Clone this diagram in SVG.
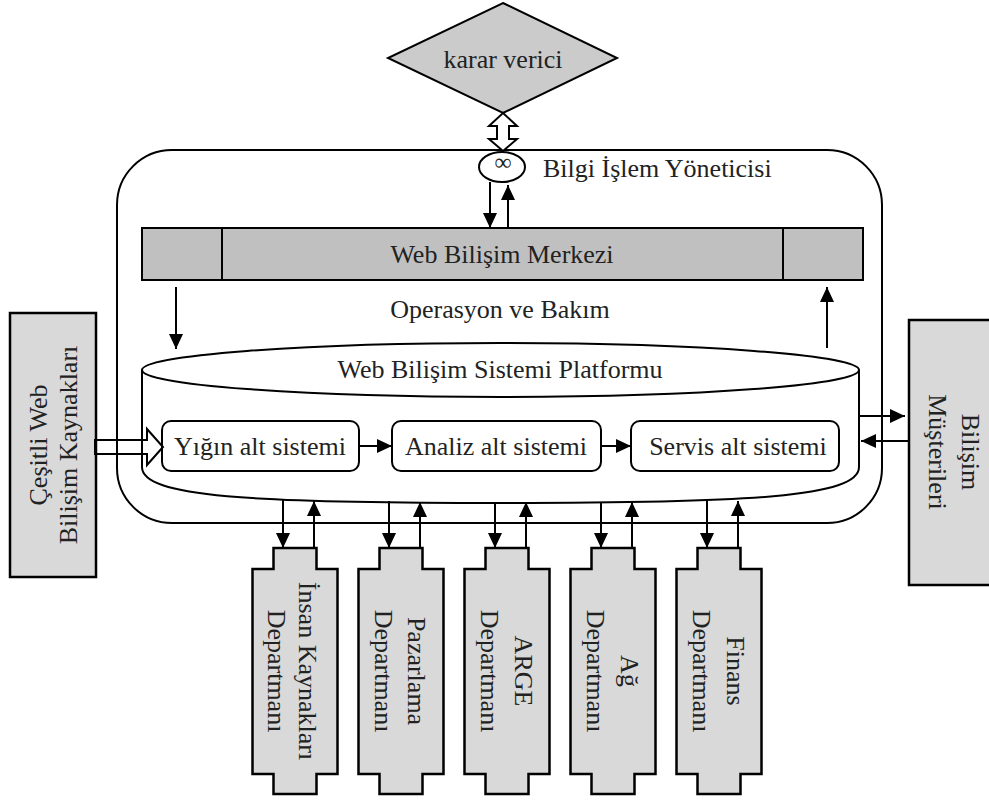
<svg xmlns="http://www.w3.org/2000/svg" width="989" height="802" viewBox="0 0 989 802">
  <style>
    .ln { fill: none; stroke: #000; stroke-width: 2; }
    .box { stroke: #000; stroke-width: 2.5; }
    .lt { fill: #d9d9d9; }
    .dk { fill: #c0c0c0; }
    .wt { fill: #fff; }
    text { font-family: "Liberation Serif", "Times New Roman", serif; font-size: 26px; fill: #222; }
    .mid { text-anchor: middle; }
    .arw { fill: none; stroke: #000; stroke-width: 2; marker-end: url(#head); }
  </style>
  <defs>
    <marker id="head" markerUnits="userSpaceOnUse" markerWidth="16" markerHeight="14" refX="15" refY="7" orient="auto">
      <path d="M0,0 L15,7 L0,14 Z" fill="#000"/>
    </marker>
  </defs>

  <rect width="989" height="802" fill="#fff"/>

  <!-- decision maker -->
  <g id="karar-verici">
    <polygon points="503,3 617,58 503,113 388,58" fill="#cbcbcb" stroke="#000" stroke-width="2"/>
    <text class="mid" x="503" y="68">karar verici</text>
  </g>

  <!-- IT manager frame -->
  <g id="bilgi-islem-yoneticisi">
    <rect x="117" y="150" width="765" height="373" rx="55" ry="55" class="ln"/>
    <text x="543" y="177">Bilgi İşlem Yöneticisi</text>
  </g>

  <!-- web computing centre bar -->
  <g id="web-bilisim-merkezi">
    <rect x="142" y="228" width="721" height="52" class="dk" stroke="#000" stroke-width="2"/>
    <line x1="222" y1="228" x2="222" y2="280" stroke="#000" stroke-width="2"/>
    <line x1="783" y1="228" x2="783" y2="280" stroke="#000" stroke-width="2"/>
    <text class="mid" x="502" y="263">Web Bilişim Merkezi</text>
  </g>

  <g id="operasyon-ve-bakim">
    <text class="mid" x="500" y="318">Operasyon ve Bakım</text>
  </g>

  <!-- platform cylinder -->
  <g id="platform">
    <path d="M142,370 V467 C142,497 250,503 500,503 C750,503 859,497 859,467 V370" class="ln"/>
    <ellipse cx="500.5" cy="370" rx="358.5" ry="27" class="ln"/>
    <text class="mid" x="500" y="378">Web Bilişim Sistemi Platformu</text>
  </g>

  <g id="yigin">
    <rect x="162" y="421" width="197" height="50" rx="9" class="ln wt"/>
    <text class="mid" x="260" y="455">Yığın alt sistemi</text>
  </g>
  <g id="analiz">
    <rect x="392" y="421" width="209" height="50" rx="9" class="ln wt"/>
    <text class="mid" x="496" y="455">Analiz alt sistemi</text>
  </g>
  <g id="servis">
    <rect x="631" y="421" width="208" height="50" rx="9" class="ln wt"/>
    <text class="mid" x="738" y="455">Servis alt sistemi</text>
  </g>

  <!-- external sources -->
  <g id="cesitli-kaynaklar">
    <rect x="10" y="313" width="86" height="264" class="lt" stroke="#000" stroke-width="2.5"/>
    <g transform="translate(53,445) rotate(-90)">
      <text class="mid" x="0" y="-6">Çeşitli Web</text>
      <text class="mid" x="0" y="24">Bilişim Kaynakları</text>
    </g>
  </g>

  <!-- customers -->
  <g id="bilisim-musterileri">
    <rect x="909" y="320" width="84" height="265" class="lt" stroke="#000" stroke-width="2.5"/>
    <g transform="translate(945,452) rotate(90)">
      <text class="mid" x="0" y="-17">Bilişim</text>
      <text class="mid" x="0" y="16">Müşterileri</text>
    </g>
  </g>

  <!-- departments -->
  <g id="dept-insan-kaynaklari">
    <path d="M273.5,548 H316.5 V569 H337.5 V774 H316.5 V794 H273.5 V774 H252.5 V569 H273.5 Z" class="lt" stroke="#000" stroke-width="2.5"/>
    <g transform="translate(295,671) rotate(90)">
      <text class="mid" x="0" y="-4">İnsan Kaynakları</text>
      <text class="mid" x="0" y="27">Departmanı</text>
    </g>
  </g>
  <g id="dept-pazarlama">
    <path d="M379.5,548 H422.5 V569 H443.5 V774 H422.5 V794 H379.5 V774 H358.5 V569 H379.5 Z" class="lt" stroke="#000" stroke-width="2.5"/>
    <g transform="translate(401,671) rotate(90)">
      <text class="mid" x="0" y="-7">Pazarlama</text>
      <text class="mid" x="0" y="26">Departmanı</text>
    </g>
  </g>
  <g id="dept-arge">
    <path d="M485.5,548 H528.5 V569 H549.5 V774 H528.5 V794 H485.5 V774 H464.5 V569 H485.5 Z" class="lt" stroke="#000" stroke-width="2.5"/>
    <g transform="translate(507,671) rotate(90)">
      <text class="mid" x="0" y="-8">ARGE</text>
      <text class="mid" x="0" y="26">Departmanı</text>
    </g>
  </g>
  <g id="dept-ag">
    <path d="M591.5,548 H634.5 V569 H655.5 V774 H634.5 V794 H591.5 V774 H570.5 V569 H591.5 Z" class="lt" stroke="#000" stroke-width="2.5"/>
    <g transform="translate(613,671) rotate(90)">
      <text class="mid" x="0" y="-8">Ağ</text>
      <text class="mid" x="0" y="26">Departmanı</text>
    </g>
  </g>
  <g id="dept-finans">
    <path d="M697.5,548 H740.5 V569 H761.5 V774 H740.5 V794 H697.5 V774 H676.5 V569 H697.5 Z" class="lt" stroke="#000" stroke-width="2.5"/>
    <g transform="translate(719,671) rotate(90)">
      <text class="mid" x="0" y="-8">Finans</text>
      <text class="mid" x="0" y="26">Departmanı</text>
    </g>
  </g>

  <!-- connectors -->
  <g id="connectors">
    <!-- two-way hollow arrow to decision maker -->
    <polygon points="503,113 517,126 509,126 509,139 517,139 503,151 489,139 497,139 497,126 489,126" fill="#fff" stroke="#000" stroke-width="2"/>
    <!-- hub symbol -->
    <ellipse cx="502" cy="167" rx="23" ry="15" fill="#fff" stroke="#000" stroke-width="2"/>
    <text class="mid" x="503" y="170" style="font-size:24px">∞</text>
    <line x1="490" y1="182" x2="490" y2="228" class="arw"/>
    <line x1="508" y1="228" x2="508" y2="185" class="arw"/>

    <!-- operation and maintenance loop -->
    <line x1="176" y1="287" x2="176" y2="349" class="arw"/>
    <line x1="827" y1="348" x2="827" y2="287" class="arw"/>

    <!-- subsystem chain -->
    <line x1="359" y1="446" x2="392" y2="446" class="arw"/>
    <line x1="601" y1="446" x2="631" y2="446" class="arw"/>

    <!-- hollow input arrow -->
    <polygon points="95,440 147,440 147,429 163,447 147,465 147,454 95,454" fill="none" stroke="#000" stroke-width="2"/>

    <!-- customers -->
    <line x1="859" y1="416" x2="905" y2="416" class="arw"/>
    <line x1="909" y1="441" x2="861" y2="441" class="arw"/>

    <!-- departments -->
    <line x1="283" y1="499" x2="283" y2="548" class="arw"/>
    <line x1="314" y1="548" x2="314" y2="501" class="arw"/>
    <line x1="389" y1="501" x2="389" y2="548" class="arw"/>
    <line x1="420" y1="548" x2="420" y2="502" class="arw"/>
    <line x1="495" y1="502" x2="495" y2="548" class="arw"/>
    <line x1="526" y1="548" x2="526" y2="502" class="arw"/>
    <line x1="601" y1="502" x2="601" y2="548" class="arw"/>
    <line x1="632" y1="548" x2="632" y2="502" class="arw"/>
    <line x1="707" y1="501" x2="707" y2="548" class="arw"/>
    <line x1="738" y1="548" x2="738" y2="501" class="arw"/>
  </g>
</svg>
